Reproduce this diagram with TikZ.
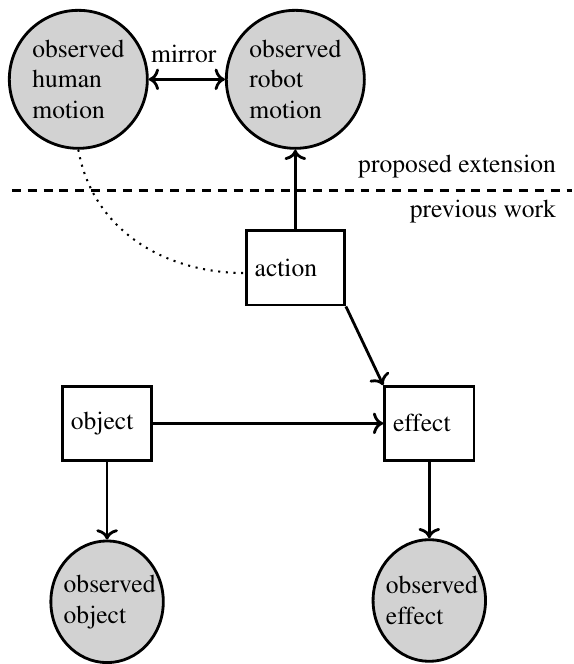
\documentclass[tikz,border=0pt]{standalone}
\usepackage[T1]{fontenc}
\usepackage{mathptmx}
\usetikzlibrary{arrows.meta, positioning, shapes.geometric}

\begin{document}
\begin{tikzpicture}[line width=1.1pt,
                observed/.style={draw, circle, fill=gray!35, minimum size=54pt, inner sep=0pt, align=left},
                observedlow/.style={draw, ellipse, fill=gray!35, minimum width=44pt, minimum height=47.6pt, inner xsep=-4pt, inner ysep=0pt, align=left},
                latent/.style={draw, fill=white, align=left},
                link/.style={->}]
                % Motion nodes - human motion as anchor
                \node[observed] (human) {observed\\human\\motion};
                \node[observed, right=29.8pt of human] (robot) {observed\\robot\\motion};

                % Variables
                \node[latent, text width=31.8pt, minimum height=29.2pt, below=31pt of robot] (action) {action};
                \node[latent, text width=28.3pt, minimum height=28.8pt, below right=30.8pt and 14.6pt of action] (effect) {effect};
                \node[latent, text width=28.3pt, minimum height=28.8pt, left=90pt of effect] (object) {object};

                % Observations below
                \node[observedlow, below=30.5pt of object] (obsobject) {\hspace*{2pt}observed\\\hspace*{2pt}object};
                \node[observedlow, below=30pt of effect] (obseffect) {\hspace*{2pt}observed\\\hspace*{2pt}effect};

                % Border between extension and previous work
                \coordinate (border west) at (-26pt,-43.4pt);
                \coordinate (border east) at (193.2pt,-43.4pt);
                \draw[dash pattern=on 3.5pt off 2.7pt] (border west) -- (border east);
                \node[anchor=base east, inner sep=0pt] (extension) at (187.4pt,-36.6pt) {proposed extension};
                \node[anchor=base east, inner sep=0pt] (previous) at (187.4pt,-54.2pt) {previous work};

                % Connections
                \draw[<->] (human) -- (robot)
                    node[midway, above=2.8pt, xshift=-1.2pt] (mirror) {mirror};
                \draw[link] (action) -- (robot);
                \draw[line width=0.8pt, dash pattern=on 0.8pt off 2.2pt] (human.south) to[out=-80, in=180] (action.186);
                \draw[link] (action.south east) -- (effect.north west);
                \draw[link] (object) -- (effect);
                \draw[link] (object) -- (obsobject);
                \draw[link] (effect) -- (obseffect);

                \useasboundingbox (-30.65pt,31.04pt) rectangle (193.2pt,-226.6pt);
            \end{tikzpicture}
\end{document}
